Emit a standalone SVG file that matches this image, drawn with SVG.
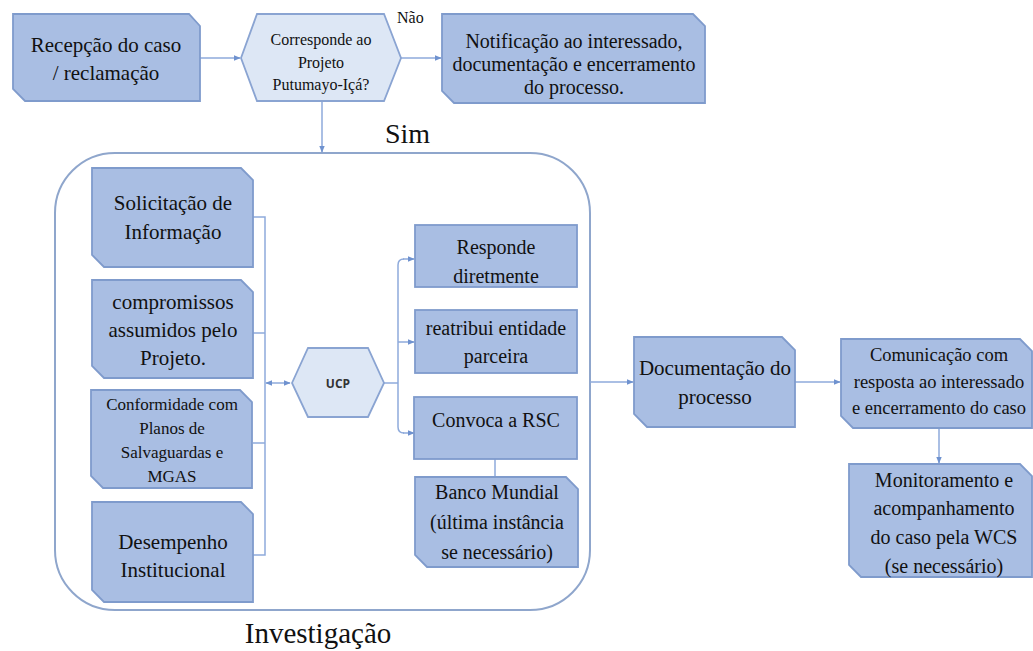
<svg xmlns="http://www.w3.org/2000/svg" width="1033" height="651" viewBox="0 0 1033 651">
<defs>
<style>
.box{fill:#a9bee3;stroke:#7f9bcc;stroke-width:1.8}
.hex{fill:#dde7f5;stroke:#8aa4d2;stroke-width:1.8}
.t{font-family:'Liberation Serif','Times New Roman',Tinos,'DejaVu Serif',serif;fill:#111;text-anchor:middle}
.s{font-family:'Liberation Serif','Times New Roman',Tinos,'DejaVu Serif',serif;fill:#111}
.c{fill:none;stroke:#8eaadb;stroke-width:1.5}
.cont{fill:none;stroke:#8fa6cc;stroke-width:2}
</style>
<marker id="ah" viewBox="0 0 10 10" refX="9" refY="5" markerWidth="7" markerHeight="7" orient="auto-start-reverse" markerUnits="userSpaceOnUse">
<path d="M0,1 L10,5 L0,9 Z" fill="#6f92cf"/>
</marker>
</defs>
<rect width="1033" height="651" fill="#fff"/>

<g id="container">
<rect class="cont" x="55" y="153" width="535" height="457" rx="60" ry="60"/>
<text class="t" x="318" y="643" font-size="29">Investigação</text>
</g>

<g id="connectors">
<line class="c" x1="200" y1="58" x2="240" y2="58" marker-end="url(#ah)"/>
<line class="c" x1="401" y1="58" x2="441" y2="58" marker-end="url(#ah)"/>
<line class="c" x1="322" y1="101" x2="322" y2="152" marker-end="url(#ah)"/>
<path class="c" d="M253,217 H265 V555 H253 M253,333 H265 M253,443 H265"/>
<line class="c" x1="266" y1="383" x2="290" y2="383" marker-start="url(#ah)" marker-end="url(#ah)"/>
<path class="c" d="M384,383 H398 M404,259 Q398,259 398,265 V427 Q398,433 404,433"/>
<line class="c" x1="403" y1="259" x2="414" y2="259" marker-end="url(#ah)"/>
<line class="c" x1="398" y1="342" x2="414" y2="342" marker-end="url(#ah)"/>
<line class="c" x1="403" y1="433" x2="414" y2="433" marker-end="url(#ah)"/>
<line class="c" x1="495" y1="459" x2="495" y2="477"/>
<line class="c" x1="590" y1="382" x2="633" y2="382" marker-end="url(#ah)"/>
<line class="c" x1="795" y1="382" x2="840" y2="382" marker-end="url(#ah)"/>
<line class="c" x1="939" y1="428" x2="939" y2="463" marker-end="url(#ah)"/>
</g>

<g id="recepcao">
<path class="box" d="M13,14 H189 L200,26 V101 H25 L13,89 Z"/>
<text class="t" font-size="21" x="106" y="52">Recepção do caso</text>
<text class="t" font-size="21" x="106" y="80">/ reclamação</text>
</g>

<g id="decisao">
<path class="hex" d="M241,58 L257,14 H384 L401,58 L384,101 H257 Z"/>
<text class="t" font-size="16" x="321" y="45">Corresponde ao</text>
<text class="t" font-size="16" x="321" y="68">Projeto</text>
<text class="t" font-size="16" x="321" y="90">Putumayo-Içá?</text>
<text class="s" font-size="16" x="397" y="23">Não</text>
<text class="s" font-size="28" x="385" y="143">Sim</text>
</g>

<g id="notificacao">
<path class="box" d="M442,14 H693 L705,26 V103 H454 L442,91 Z"/>
<text class="t" font-size="20" x="574" y="48">Notificação ao interessado,</text>
<text class="t" font-size="20" x="574" y="71">documentação e encerramento</text>
<text class="t" font-size="20" x="574" y="94">do processo.</text>
</g>

<g id="solicitacao">
<path class="box" d="M92,168 H241 L253,180 V267 H104 L92,255 Z"/>
<text class="t" font-size="21" x="173" y="210">Solicitação de</text>
<text class="t" font-size="21" x="173" y="239">Informação</text>
</g>

<g id="compromissos">
<path class="box" d="M92,280 H241 L253,292 V378 H104 L92,366 Z"/>
<text class="t" font-size="21" x="173" y="309">compromissos</text>
<text class="t" font-size="21" x="173" y="337">assumidos pelo</text>
<text class="t" font-size="21" x="173" y="365">Projeto.</text>
</g>

<g id="conformidade">
<path class="box" d="M91,390 H240 L252,402 V488 H103 L91,476 Z"/>
<text class="t" font-size="17" x="172" y="410">Conformidade com</text>
<text class="t" font-size="17" x="172" y="434">Planos de</text>
<text class="t" font-size="17" x="172" y="458">Salvaguardas e</text>
<text class="t" font-size="17" x="172" y="482">MGAS</text>
</g>

<g id="desempenho">
<path class="box" d="M92,502 H241 L253,514 V602 H104 L92,590 Z"/>
<text class="t" font-size="21" x="173" y="549">Desempenho</text>
<text class="t" font-size="21" x="173" y="577">Institucional</text>
</g>

<g id="ucp">
<path class="hex" d="M292,383 L308,348 H368 L384,383 L368,417 H308 Z"/>
<text x="338" y="388" font-family="'Open Sans','Liberation Sans',sans-serif" font-weight="bold" font-size="12" fill="#333" text-anchor="middle">UCP</text>
</g>

<g id="responde">
<rect class="box" x="415" y="225" width="162" height="62"/>
<text class="t" font-size="20" x="496" y="254">Responde</text>
<text class="t" font-size="20" x="496" y="283">diretmente</text>
</g>

<g id="reatribui">
<rect class="box" x="415" y="310" width="162" height="63"/>
<text class="t" font-size="20" x="496" y="335">reatribui entidade</text>
<text class="t" font-size="20" x="496" y="363">parceira</text>
</g>

<g id="convoca">
<rect class="box" x="414" y="397" width="163" height="62"/>
<text class="t" font-size="20" x="496" y="427">Convoca a RSC</text>
</g>

<g id="banco">
<path class="box" d="M415,477 H566 L578,489 V567 H427 L415,555 Z"/>
<text class="t" font-size="20" x="497" y="499">Banco Mundial</text>
<text class="t" font-size="20" x="497" y="529">(última instância</text>
<text class="t" font-size="20" x="497" y="559">se necessário)</text>
</g>

<g id="documentacao">
<path class="box" d="M634,337 H782 L795,350 V427 H647 L634,414 Z"/>
<text class="t" font-size="21" x="715" y="375">Documentação do</text>
<text class="t" font-size="21" x="715" y="404">processo</text>
</g>

<g id="comunicacao">
<path class="box" d="M841,339 H1020 L1032,351 V428 H853 L841,416 Z"/>
<text class="t" font-size="18.5" x="939" y="361">Comunicação com</text>
<text class="t" font-size="18.5" x="939" y="388">resposta ao interessado</text>
<text class="t" font-size="18.5" x="939" y="414">e encerramento do caso</text>
</g>

<g id="monitoramento">
<path class="box" d="M849,464 H1020 L1032,476 V577 H861 L849,565 Z"/>
<text class="t" font-size="20" x="944" y="487">Monitoramento e</text>
<text class="t" font-size="20" x="944" y="515">acompanhamento</text>
<text class="t" font-size="20" x="944" y="544">do caso pela WCS</text>
<text class="t" font-size="20" x="944" y="573">(se necessário)</text>
</g>
</svg>
